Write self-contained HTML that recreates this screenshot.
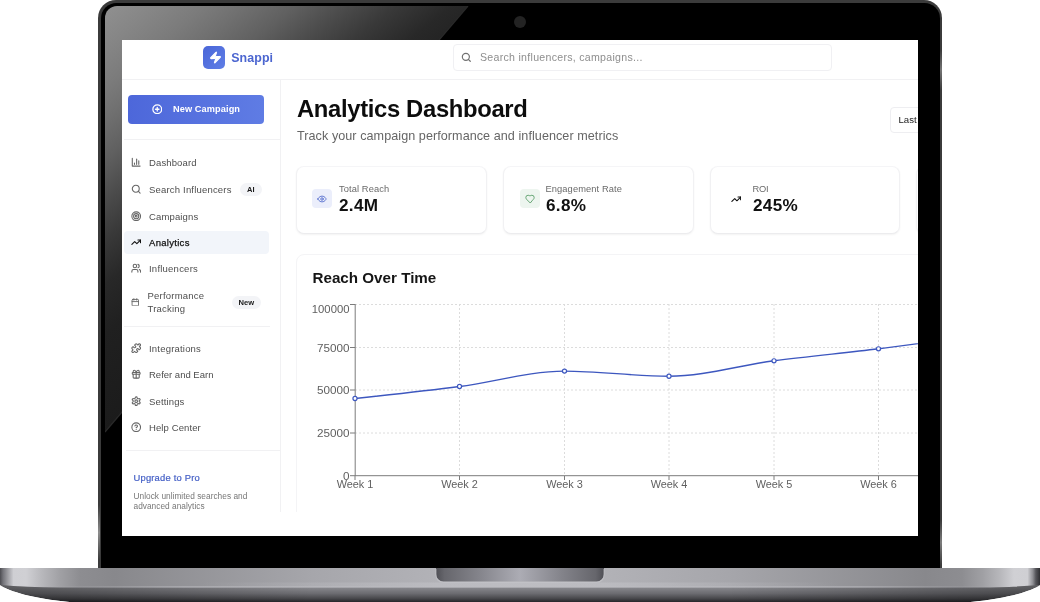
<!DOCTYPE html>
<html>
<head>
<meta charset="utf-8">
<style>
*{box-sizing:border-box;margin:0;padding:0}
html,body{width:1040px;height:602px;overflow:hidden;background:#fff;font-family:"Liberation Sans",sans-serif;}
body{position:relative}
/* ---------- laptop ---------- */
#lid{position:absolute;left:98px;top:0;width:844px;height:570px;background:#3b3b3b;border-radius:18px 18px 0 0;overflow:hidden}
#lid .blk{position:absolute;left:2.800px;top:2.800px;right:1.800px;bottom:0;background:#000;border-radius:15.500px 15.500px 0 0}
#lid .hl{position:absolute;width:2.200px;background:linear-gradient(180deg,rgba(150,150,150,0),rgba(150,150,150,.9) 50%,rgba(150,150,150,0))}
#lid .glass{position:absolute;left:6.5px;top:6px;right:6.5px;bottom:0;background:#000;border-radius:12px 12px 0 0;overflow:hidden}
#lid .glass svg{position:absolute;left:0;top:0}
#cam{position:absolute;left:514px;top:16.200px;width:12px;height:12px;border-radius:50%;background:#232323}
#screen{position:absolute;left:122px;top:40px;width:796px;height:495.5px;background:#fff;overflow:hidden;will-change:transform}
#base{position:absolute;left:0;top:568px;width:1040px;height:34px;overflow:hidden}
/* ---------- app ---------- */
#app{position:absolute;left:0;top:0;width:1000px;height:472px;overflow:hidden;background:#fff}
.abs{position:absolute}
.ico{position:absolute;fill:none;stroke:#666;stroke-width:2.500;stroke-linecap:round;stroke-linejoin:round}
.nav{position:absolute;left:27px;font-size:9.5px;color:#4e4e4e;letter-spacing:.12px;white-space:nowrap;line-height:12px}
.badge{position:absolute;background:#f3f4f7;border-radius:6.500px;font-weight:700;font-size:7.5px;color:#1a1a1a;text-align:center}
.card{position:absolute;background:#fff;border:1px solid #f1f1f3;border-top-color:#f5f5f7;border-bottom-color:#ececee;border-radius:8px;box-shadow:0 1px 2px rgba(0,0,0,.05)}
.lbl{position:absolute;font-size:9.3px;color:#6a6a6a;white-space:nowrap;line-height:12px;letter-spacing:.1px}
.val{position:absolute;font-size:16px;font-weight:700;color:#111;white-space:nowrap;line-height:18px;letter-spacing:.3px;transform:scaleX(1.07);transform-origin:0 0}
</style>
</head>
<body>
<div id="lid">
  <div class="blk"></div>
  <div class="hl" style="left:0;top:505px;height:55px"></div>
  <div class="hl" style="right:0;top:50px;height:40px;opacity:.7"></div>
  <div class="hl" style="right:0;top:520px;height:45px;opacity:.8"></div>
  <div class="glass">
    <svg width="831" height="564" viewBox="0 0 831 564">
      <defs>
        <linearGradient id="refl" gradientUnits="userSpaceOnUse" x1="0" y1="0" x2="219" y2="273">
          <stop offset="0" stop-color="#909090"/>
          <stop offset=".09" stop-color="#868686"/>
          <stop offset=".18" stop-color="#7b7b7b"/>
          <stop offset=".25" stop-color="#707070"/>
          <stop offset=".34" stop-color="#606060"/>
          <stop offset=".43" stop-color="#4c4c4c"/>
          <stop offset=".52" stop-color="#393939"/>
          <stop offset=".62" stop-color="#282828"/>
          <stop offset=".73" stop-color="#202020"/>
          <stop offset="1" stop-color="#1a1a1a"/>
        </linearGradient>
      </defs>
      <polygon points="0,0 363,0 0,426" fill="url(#refl)"/>
      <line x1="363" y1="0" x2="0" y2="426" stroke="#2a2a2a" stroke-width="1.200"/>
    </svg>
  </div>
</div>
<div id="cam"></div>

<div id="screen">
<div id="app">
  <!-- header -->
  <div class="abs" style="left:0;top:39px;width:1000px;height:1px;background:#f1f1f3"></div>
  <div class="abs" style="left:81px;top:6px;width:22px;height:22.5px;border-radius:5px;background:linear-gradient(135deg,#4a66d8,#5f7ee6)">
    <svg class="abs" style="left:5.600px;top:4.700px" width="13" height="13" viewBox="0 0 24 24" fill="#fff" stroke="#fff" stroke-width="2" stroke-linejoin="round"><path d="M4 14a1 1 0 0 1-.78-1.630l9.900-10.200a.5.5 0 0 1 .86.460l-1.920 6.020A1 1 0 0 0 13 10h7a1 1 0 0 1 .78 1.630l-9.900 10.200a.5.5 0 0 1-.86-.46l1.920-6.020A1 1 0 0 0 11 14z"/></svg>
  </div>
  <div class="abs" style="left:109.200px;top:10.200px;font-size:12.400px;font-weight:700;color:#4c66d0;letter-spacing:.1px;line-height:16px">Snappi</div>
  <div class="abs" style="left:331px;top:4px;width:378.5px;height:27px;border:1px solid #f0f0f3;border-radius:4px"></div>
  <svg class="ico" style="left:338.800px;top:12.300px;stroke:#707070;stroke-width:2.700" width="10.600" height="10.600" viewBox="0 0 24 24"><circle cx="11" cy="11" r="8"/><path d="m21 21-4.3-4.3"/></svg>
  <div class="abs" style="left:358px;top:11px;font-size:10.6px;color:#8e8e8e;letter-spacing:.28px;line-height:13px;white-space:nowrap">Search influencers, campaigns...</div>

  <!-- sidebar -->
  <div class="abs" style="left:158px;top:40px;width:1px;height:432px;background:#f1f1f3"></div>
  <div class="abs" style="left:6px;top:55px;width:136px;height:28.5px;border-radius:4px;background:linear-gradient(90deg,#4d67da,#5f7ce4)"></div>
  <svg class="ico" style="left:29.800px;top:63.600px;stroke:#fff;stroke-width:2.900" width="10.500" height="10.500" viewBox="0 0 24 24"><circle cx="12" cy="12" r="10"/><path d="M8 12h8"/><path d="M12 8v8"/></svg>
  <div class="abs" style="left:51px;top:62.800px;font-size:9.2px;font-weight:700;color:#fff;line-height:12px;letter-spacing:.1px;white-space:nowrap">New Campaign</div>
  <div class="abs" style="left:2px;top:99px;width:156px;height:1px;background:#f1f1f3"></div>

  <svg class="ico" style="left:8.600px;top:116.600px" width="10.400" height="10.400" viewBox="0 0 24 24"><path d="M3 3v18h18"/><path d="M18 17V9"/><path d="M13 17V5"/><path d="M8 17v-3"/></svg>
  <div class="nav" style="top:116.5px;letter-spacing:0.13px">Dashboard</div>

  <svg class="ico" style="left:8.600px;top:143.600px" width="10.400" height="10.400" viewBox="0 0 24 24"><circle cx="11" cy="11" r="8"/><path d="m21 21-4.3-4.3"/></svg>
  <div class="nav" style="top:143.5px;letter-spacing:0.19px">Search Influencers</div>
  <div class="badge" style="left:118px;top:142.800px;width:21.600px;height:13px;line-height:13px;border-radius:6.500px">AI</div>

  <svg class="ico" style="left:8.600px;top:170.600px" width="10.400" height="10.400" viewBox="0 0 24 24"><circle cx="12" cy="12" r="10"/><circle cx="12" cy="12" r="6"/><circle cx="12" cy="12" r="2"/></svg>
  <div class="nav" style="top:170.5px;letter-spacing:0.14px">Campaigns</div>

  <div class="abs" style="left:2px;top:191px;width:145px;height:23px;border-radius:4px;background:#f2f5fa"></div>
  <svg class="ico" style="left:8.600px;top:196.600px;stroke:#111" width="10.400" height="10.400" viewBox="0 0 24 24"><polyline points="22 7 13.5 15.5 8.5 10.5 2 17"/><polyline points="16 7 22 7 22 13"/></svg>
  <div class="nav" style="top:197px;color:#111;letter-spacing:.3px;-webkit-text-stroke:.25px #111">Analytics</div>

  <svg class="ico" style="left:8.600px;top:223.100px" width="10.400" height="10.400" viewBox="0 0 24 24"><path d="M16 21v-2a4 4 0 0 0-4-4H6a4 4 0 0 0-4 4v2"/><circle cx="9" cy="7" r="4"/><path d="M22 21v-2a4 4 0 0 0-3-3.87"/><path d="M16 3.130a4 4 0 0 1 0 7.750"/></svg>
  <div class="nav" style="top:223px;letter-spacing:0.23px">Influencers</div>

  <svg class="ico" style="left:8.600px;top:257.700px" width="8.600" height="8.600" viewBox="0 0 24 24"><rect width="18" height="18" x="3" y="4" rx="2" ry="2"/><line x1="16" x2="16" y1="2" y2="6"/><line x1="8" x2="8" y1="2" y2="6"/><line x1="3" x2="21" y1="10" y2="10"/></svg>
  <div class="nav" style="left:25.500px;top:249px;line-height:13px;letter-spacing:.22px">Performance<br>Tracking</div>
  <div class="badge" style="left:109.600px;top:255.600px;width:29.400px;height:13px;line-height:13px;font-size:7.6px">New</div>

  <div class="abs" style="left:2px;top:285.700px;width:146px;height:1px;background:#f1f1f3"></div>

  <svg class="ico" style="left:8.600px;top:302.600px" width="10.400" height="10.400" viewBox="0 0 24 24"><path d="M19.439 7.850c-.049.322.059.648.289.878l1.568 1.568c.47.47.706 1.087.706 1.704s-.235 1.233-.706 1.704l-1.611 1.611a.98.98 0 0 1-.837.276c-.47-.07-.802-.48-.968-.925a2.501 2.501 0 1 0-3.214 3.214c.446.166.855.497.925.968a.979.979 0 0 1-.276.837l-1.610 1.610a2.404 2.404 0 0 1-1.705.707 2.402 2.402 0 0 1-1.704-.706l-1.568-1.568a1.026 1.026 0 0 0-.877-.290c-.493.074-.84.504-1.020.968a2.500 2.500 0 1 1-3.237-3.237c.464-.18.894-.527.967-1.020a1.026 1.026 0 0 0-.289-.877l-1.568-1.568A2.402 2.402 0 0 1 1.998 12c0-.617.236-1.234.706-1.704L4.230 8.770c.24-.24.581-.353.917-.303.515.077.877.528 1.073 1.010a2.500 2.500 0 1 0 3.259-3.259c-.482-.196-.933-.558-1.010-1.073-.05-.336.062-.676.303-.917l1.525-1.525A2.402 2.402 0 0 1 12 1.998c.617 0 1.234.236 1.704.706l1.568 1.568c.23.23.556.338.877.290.493-.074.840-.504 1.020-.968a2.500 2.500 0 1 1 3.237 3.237c-.464.180-.894.527-.967 1.020Z"/></svg>
  <div class="nav" style="top:302.500px;letter-spacing:0.20px">Integrations</div>

  <svg class="ico" style="left:8.600px;top:329.100px" width="10.400" height="10.400" viewBox="0 0 24 24"><rect x="3" y="8" width="18" height="4" rx="1"/><path d="M12 8v13"/><path d="M19 12v7a2 2 0 0 1-2 2H7a2 2 0 0 1-2-2v-7"/><path d="M7.500 8a2.500 2.500 0 0 1 0-5A4.800 8 0 0 1 12 8a4.800 8 0 0 1 4.500-5 2.500 2.500 0 0 1 0 5"/></svg>
  <div class="nav" style="top:329px;letter-spacing:0.00px">Refer and Earn</div>

  <svg class="ico" style="left:8.600px;top:355.600px" width="10.400" height="10.400" viewBox="0 0 24 24"><path d="M12.220 2h-.44a2 2 0 0 0-2 2v.18a2 2 0 0 1-1 1.730l-.43.250a2 2 0 0 1-2 0l-.15-.08a2 2 0 0 0-2.730.730l-.22.380a2 2 0 0 0 .73 2.730l.15.100a2 2 0 0 1 1 1.720v.510a2 2 0 0 1-1 1.740l-.15.090a2 2 0 0 0-.73 2.730l.22.380a2 2 0 0 0 2.730.730l.15-.08a2 2 0 0 1 2 0l.43.250a2 2 0 0 1 1 1.730V20a2 2 0 0 0 2 2h.44a2 2 0 0 0 2-2v-.18a2 2 0 0 1 1-1.730l.43-.250a2 2 0 0 1 2 0l.15.080a2 2 0 0 0 2.730-.730l.22-.390a2 2 0 0 0-.73-2.730l-.15-.08a2 2 0 0 1-1-1.740v-.500a2 2 0 0 1 1-1.740l.15-.09a2 2 0 0 0 .73-2.730l-.22-.38a2 2 0 0 0-2.730-.730l-.15.080a2 2 0 0 1-2 0l-.43-.250a2 2 0 0 1-1-1.730V4a2 2 0 0 0-2-2z"/><circle cx="12" cy="12" r="3"/></svg>
  <div class="nav" style="top:355.500px;letter-spacing:0.14px">Settings</div>

  <svg class="ico" style="left:8.600px;top:381.600px" width="10.400" height="10.400" viewBox="0 0 24 24"><circle cx="12" cy="12" r="10"/><path d="M9.090 9a3 3 0 0 1 5.830 1c0 2-3 3-3 3"/><path d="M12 17h.01"/></svg>
  <div class="nav" style="top:381.500px;letter-spacing:0.10px">Help Center</div>

  <div class="abs" style="left:4px;top:410px;width:154px;height:1px;background:#f1f1f3"></div>
  <div class="abs" style="left:11.500px;top:432px;font-size:9.400px;color:#4560c6;letter-spacing:.2px;line-height:12px;white-space:nowrap;-webkit-text-stroke:.2px #4560c6">Upgrade to Pro</div>
  <div class="abs" style="left:11.500px;top:450.600px;font-size:8.300px;color:#777;line-height:10.500px;white-space:nowrap;letter-spacing:.03px">Unlock unlimited searches and<br>advanced analytics</div>

  <!-- main -->
  <div class="abs" style="left:175px;top:54.500px;font-size:23.800px;font-weight:700;color:#0c0c0c;letter-spacing:-.33px;line-height:28px;white-space:nowrap">Analytics Dashboard</div>
  <div class="abs" style="left:175px;top:88.700px;font-size:12.600px;color:#666;letter-spacing:.06px;line-height:15px;white-space:nowrap">Track your campaign performance and influencer metrics</div>
  <div class="abs" style="left:767.800px;top:66.800px;width:60px;height:25.800px;border:1px solid #eeeef1;border-radius:4px"></div>
  <div class="abs" style="left:776.500px;top:74px;font-size:9.600px;color:#222;line-height:12px;white-space:nowrap">Last 30 days</div>

  <div class="card" style="left:174.400px;top:125.800px;width:191px;height:67.800px"></div>
  <div class="card" style="left:380.900px;top:125.800px;width:190.800px;height:67.800px"></div>
  <div class="card" style="left:587.700px;top:125.800px;width:190.600px;height:67.800px"></div>
  <div class="card" style="left:793.600px;top:125.800px;width:190.500px;height:67.800px"></div>

  <div class="abs" style="left:190px;top:148.500px;width:20.300px;height:19.400px;border-radius:4px;background:#ebeefb"></div>
  <svg class="ico" style="left:195.200px;top:154.300px;stroke:#5870cf;stroke-width:2.200" width="10" height="10" viewBox="0 0 24 24"><path d="M2 12s3-7 10-7 10 7 10 7-3 7-10 7-10-7-10-7Z"/><circle cx="12" cy="12" r="3"/></svg>
  <div class="lbl" style="left:217px;top:142.500px">Total Reach</div>
  <div class="val" style="left:216.500px;top:157.400px">2.4M</div>

  <div class="abs" style="left:397.500px;top:148.700px;width:20px;height:19.500px;border-radius:4px;background:#edf5ef"></div>
  <svg class="ico" style="left:402.500px;top:154.200px;stroke:#5b9f6a;stroke-width:2.200" width="10" height="10" viewBox="0 0 24 24"><path d="M19 14c1.490-1.460 3-3.210 3-5.500A5.500 5.500 0 0 0 16.500 3c-1.760 0-3 .5-4.500 2-1.500-1.500-2.740-2-4.500-2A5.500 5.500 0 0 0 2 8.500c0 2.300 1.500 4.050 3 5.500l7 7Z"/></svg>
  <div class="lbl" style="left:423.500px;top:142.500px">Engagement Rate</div>
  <div class="val" style="left:423.500px;top:157.400px">6.8%</div>

  <svg class="ico" style="left:608.600px;top:154.300px;stroke:#111" width="10.500" height="10.500" viewBox="0 0 24 24"><polyline points="22 7 13.500 15.500 8.500 10.500 2 17"/><polyline points="16 7 22 7 22 13"/></svg>
  <div class="lbl" style="left:630.500px;top:142.500px;letter-spacing:-.25px">ROI</div>
  <div class="val" style="left:630.500px;top:157.400px">245%</div>

  <!-- chart card -->
  <div class="card" style="left:174.400px;top:213.800px;width:900px;height:300px;border-color:#f4f4f6;box-shadow:none"></div>
  <div class="abs" style="left:190.500px;top:228.200px;font-size:15.200px;font-weight:700;color:#151515;letter-spacing:0;line-height:20px;white-space:nowrap">Reach Over Time</div>

  <svg class="abs" style="left:174px;top:250px" width="830" height="222" viewBox="174 250 830 222" font-family="Liberation Sans, sans-serif" font-size="11.700" fill="#606060">
    <g stroke="#dcdcdc" stroke-width="1" stroke-dasharray="2 2" fill="none">
      <line x1="233" x2="1000" y1="264.500" y2="264.500"/>
      <line x1="233" x2="1000" y1="307.500" y2="307.500"/>
      <line x1="233" x2="1000" y1="350" y2="350"/>
      <line x1="233" x2="1000" y1="393" y2="393"/>
      <line x1="337.500" x2="337.500" y1="264" y2="435.500"/>
      <line x1="442.500" x2="442.500" y1="264" y2="435.500"/>
      <line x1="547" x2="547" y1="264" y2="435.500"/>
      <line x1="652" x2="652" y1="264" y2="435.500"/>
      <line x1="756.500" x2="756.500" y1="264" y2="435.500"/>
    </g>
    <g stroke="#7c7c7c" stroke-width="1" fill="none">
      <line x1="233.200" x2="233.200" y1="264" y2="436"/>
      <line x1="233" x2="1000" y1="435.700" y2="435.700"/>
      <line x1="228" x2="233" y1="264.500" y2="264.500"/>
      <line x1="228" x2="233" y1="307.500" y2="307.500"/>
      <line x1="228" x2="233" y1="350" y2="350"/>
      <line x1="228" x2="233" y1="393" y2="393"/>
      <line x1="228" x2="233" y1="435.700" y2="435.700"/>
      <line x1="233" x2="233" y1="436" y2="440"/>
      <line x1="337.500" x2="337.500" y1="436" y2="440"/>
      <line x1="442.500" x2="442.500" y1="436" y2="440"/>
      <line x1="547" x2="547" y1="436" y2="440"/>
      <line x1="652" x2="652" y1="436" y2="440"/>
      <line x1="756.500" x2="756.500" y1="436" y2="440"/>
    </g>
    <g text-anchor="end">
      <text x="227.500" y="273.150" textLength="37.700" lengthAdjust="spacingAndGlyphs">100000</text>
      <text x="227.500" y="311.650">75000</text>
      <text x="227.500" y="354.150">50000</text>
      <text x="227.500" y="397.150">25000</text>
      <text x="227.500" y="440">0</text>
    </g>
    <g text-anchor="middle" font-size="10.900">
      <text x="233" y="448.200">Week 1</text>
      <text x="337.500" y="448.200">Week 2</text>
      <text x="442.500" y="448.200">Week 3</text>
      <text x="547" y="448.200">Week 4</text>
      <text x="652" y="448.200">Week 5</text>
      <text x="756.500" y="448.200">Week 6</text>
    </g>
    <path d="M233.00,358.52C267.83,354.80 302.67,351.08 337.50,346.52C372.50,341.94 407.50,331.08 442.50,331.08C477.33,331.08 512.17,336.23 547.00,336.23C582.00,336.23 617.00,325.38 652.00,320.79C686.83,316.24 721.67,313.07 756.50,308.79C791.50,304.49 826.50,299.78 861.50,295.07" fill="none" stroke="#3d57bf" stroke-width="1.350"/>
    <g fill="#fff" stroke="#3d57bf" stroke-width="1.200"><circle cx="233.00" cy="358.52" r="2.050"/><circle cx="337.50" cy="346.52" r="2.050"/><circle cx="442.50" cy="331.08" r="2.050"/><circle cx="547.00" cy="336.23" r="2.050"/><circle cx="652.00" cy="320.79" r="2.050"/><circle cx="756.50" cy="308.79" r="2.050"/><circle cx="861.50" cy="295.07" r="2.050"/></g>
  </svg>
</div>
</div>

<div id="base">
  <svg width="1040" height="34" viewBox="0 0 1040 34">
    <defs>
      <linearGradient id="bt" x1="0" x2="1" y1="0" y2="0">
        <stop offset="0" stop-color="#4c4c51"/>
        <stop offset=".003" stop-color="#74747a"/>
        <stop offset=".008" stop-color="#a2a2a7"/>
        <stop offset=".013" stop-color="#cfcfd3"/>
        <stop offset=".025" stop-color="#d0d0d4"/>
        <stop offset=".04" stop-color="#b8b8bc"/>
        <stop offset=".058" stop-color="#a0a0a4"/>
        <stop offset=".077" stop-color="#8d8d91"/>
        <stop offset=".11" stop-color="#88888c"/>
        <stop offset=".3" stop-color="#a6a6ab"/>
        <stop offset=".42" stop-color="#b2b2b7"/>
        <stop offset=".5" stop-color="#b5b5ba"/>
        <stop offset=".58" stop-color="#b2b2b7"/>
        <stop offset=".7" stop-color="#a6a6ab"/>
        <stop offset=".89" stop-color="#88888c"/>
        <stop offset=".925" stop-color="#8d8d91"/>
        <stop offset=".945" stop-color="#a0a0a4"/>
        <stop offset=".962" stop-color="#b8b8bc"/>
        <stop offset=".975" stop-color="#d0d0d4"/>
        <stop offset=".988" stop-color="#cfcfd3"/>
        <stop offset=".993" stop-color="#909095"/>
        <stop offset=".996" stop-color="#55555a"/>
        <stop offset="1" stop-color="#2e2e32"/>
      </linearGradient>
      <linearGradient id="bb" gradientUnits="userSpaceOnUse" x1="0" y1="0" x2="0" y2="34">
        <stop offset=".56" stop-color="#8a8a8f"/>
        <stop offset=".75" stop-color="#6c6c71"/>
        <stop offset=".9" stop-color="#47474b"/>
        <stop offset="1" stop-color="#26262a"/>
      </linearGradient>
      <linearGradient id="bs" x1="0" x2="1" y1="0" y2="0">
        <stop offset="0" stop-color="#000" stop-opacity=".34"/>
        <stop offset=".1" stop-color="#000" stop-opacity=".24"/>
        <stop offset=".3" stop-color="#000" stop-opacity="0"/>
        <stop offset=".7" stop-color="#000" stop-opacity="0"/>
        <stop offset=".9" stop-color="#000" stop-opacity=".24"/>
        <stop offset="1" stop-color="#000" stop-opacity=".34"/>
      </linearGradient>
      <linearGradient id="ll" x1="0" x2="1" y1="0" y2="0">
        <stop offset="0" stop-color="#bcbcc1" stop-opacity="0"/>
        <stop offset=".15" stop-color="#bcbcc1" stop-opacity=".75"/>
        <stop offset=".85" stop-color="#bcbcc1" stop-opacity=".75"/>
        <stop offset="1" stop-color="#bcbcc1" stop-opacity="0"/>
      </linearGradient>
      <linearGradient id="ls" x1="0" x2="1" y1="0" y2="0">
        <stop offset="0" stop-color="#c8c8cd" stop-opacity="0"/>
        <stop offset=".35" stop-color="#c8c8cd" stop-opacity=".4"/>
        <stop offset=".65" stop-color="#c8c8cd" stop-opacity=".4"/>
        <stop offset="1" stop-color="#c8c8cd" stop-opacity="0"/>
      </linearGradient>
      <linearGradient id="nt" x1="0" x2="1" y1="0" y2="0">
        <stop offset="0" stop-color="#4f4f55"/>
        <stop offset=".05" stop-color="#66666c"/>
        <stop offset=".25" stop-color="#83838a"/>
        <stop offset=".5" stop-color="#acacb4"/>
        <stop offset=".75" stop-color="#83838a"/>
        <stop offset=".95" stop-color="#66666c"/>
        <stop offset="1" stop-color="#4f4f55"/>
      </linearGradient>
    </defs>
    <rect x="0" y="0" width="1040" height="20" fill="url(#bt)"/>
    <path id="lowb" d="M0 17 Q25 19 60 19.500 H980 Q1015 19 1040 17 C1030 24 1005 31 965 34.500 H75 C35 31 10 24 0 17Z" fill="url(#bb)"/>
    <path d="M0 17 Q25 19 60 19.500 H980 Q1015 19 1040 17 C1030 24 1005 31 965 34.500 H75 C35 31 10 24 0 17Z" fill="url(#bs)"/>
    <path d="M0 17 C10 24 35 31 75 34.500 H0Z" fill="#fff"/>
    <path d="M1040 17 C1030 24 1005 31 965 34.500 H1040Z" fill="#fff"/>
    <rect x="200" y="14.500" width="640" height="4.500" fill="url(#ls)"/>
    <rect x="40" y="18.300" width="960" height="1.200" fill="url(#ll)"/>
    <path d="M436 0 H604 V6 a7.500 7.500 0 0 1 -7.500 7.500 H443.500 a7.500 7.500 0 0 1 -7.500 -7.500 Z" fill="url(#nt)"/>
    <path d="M436 0 V6 a7.500 7.500 0 0 0 7.500 7.500 H596.500 a7.500 7.500 0 0 0 7.500 -7.500 V0" fill="none" stroke="#c6c6cb" stroke-width="1.200" opacity=".6" transform="translate(0,.9)"/>
  </svg>
</div>


</body>
</html>
